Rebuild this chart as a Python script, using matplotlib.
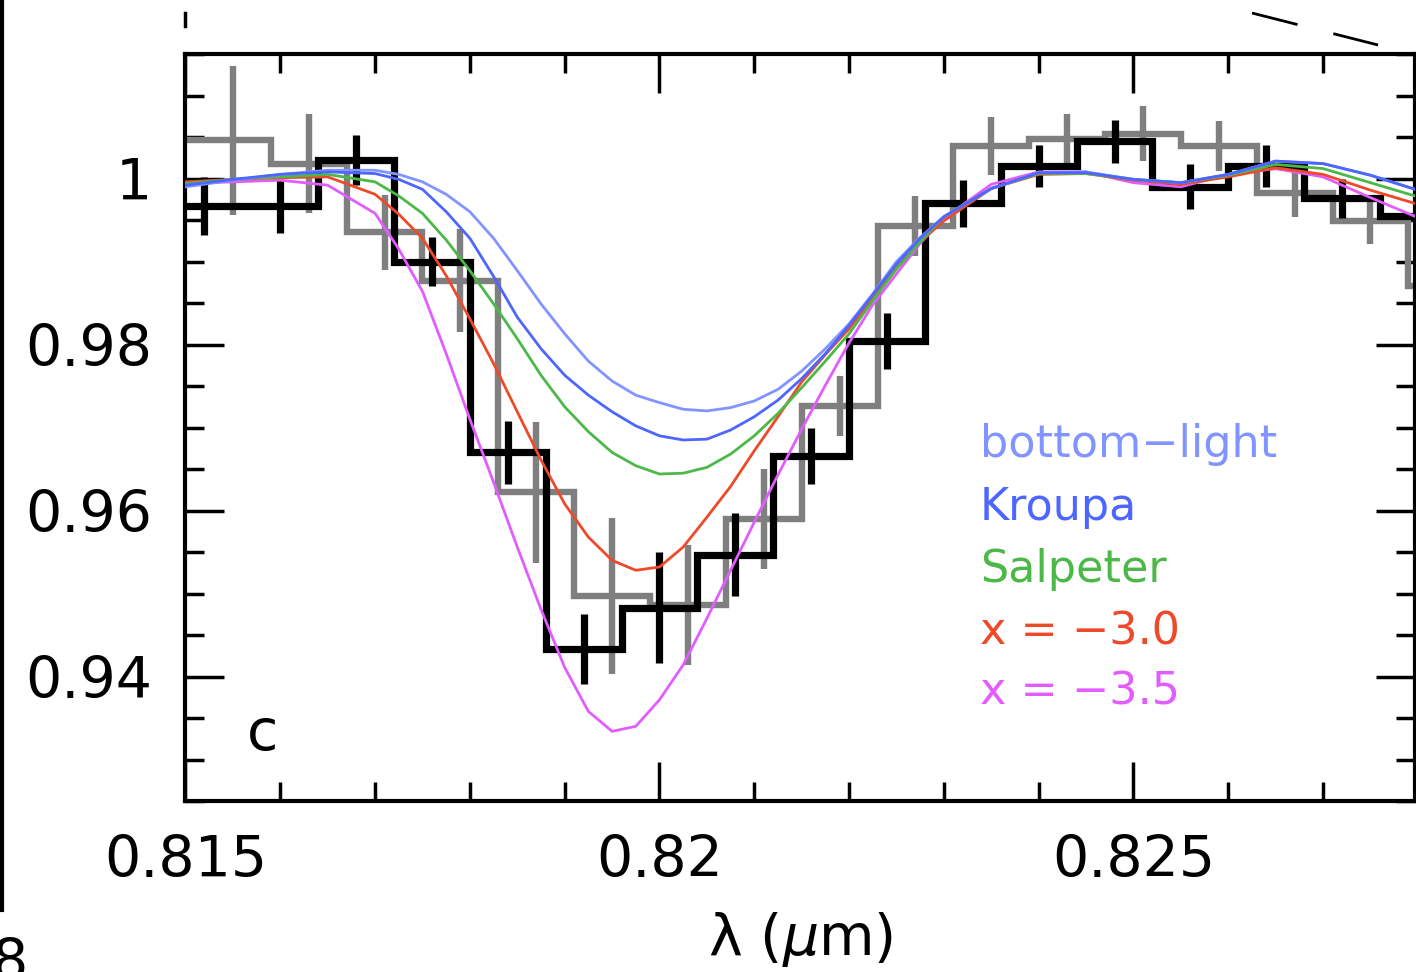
import matplotlib
matplotlib.use("Agg")
import matplotlib.pyplot as plt
import numpy as np
from matplotlib.lines import Line2D
from matplotlib.ticker import FixedLocator, MultipleLocator, FuncFormatter

plt.rcParams['font.family'] = ['DejaVu Sans']
plt.rcParams['mathtext.fontset'] = 'dejavusans'

bin_width = 0.0008

# observed spectrum (black histogram)
obs_lam = [0.8152, 0.8160, 0.8168, 0.8176, 0.8184, 0.8192, 0.8200, 0.8208, 0.8216,
           0.8224, 0.8232, 0.8240, 0.8248, 0.8256, 0.8264, 0.8272, 0.8280]
obs_flux = [0.9967, 0.9967, 1.0022, 0.9900, 0.9670, 0.9433, 0.9483, 0.9547, 0.9666,
            0.9804, 0.9970, 1.0015, 1.0045, 0.9990, 1.0015, 0.9976, 0.9955]
obs_err = [0.0035, 0.0033, 0.0030, 0.0030, 0.0038, 0.0042, 0.0067, 0.0050, 0.0034,
           0.0034, 0.0028, 0.0025, 0.0026, 0.0027, 0.0025, 0.0023, 0.0025]

# second spectrum (grey histogram), shifted sampling
alt_lam = [0.8147, 0.8155, 0.8163, 0.8171, 0.8179, 0.8187, 0.8195, 0.8203, 0.8211,
           0.8219, 0.8227, 0.8235, 0.8243, 0.8251, 0.8259, 0.8267, 0.8275, 0.8283]
alt_flux = [1.0046, 1.0046, 1.0018, 0.9935, 0.9877, 0.9622, 0.9497, 0.9486, 0.9590,
            0.9726, 0.9943, 1.0039, 1.0048, 1.0054, 1.0039, 0.9982, 0.9949, 0.9870]
alt_err = [0.0, 0.0090, 0.0060, 0.0045, 0.0062, 0.0085, 0.0094, 0.0072, 0.0060,
           0.0036, 0.0036, 0.0035, 0.0030, 0.0033, 0.0030, 0.0028, 0.0028, 0.0040]

# model spectra for the different IMFs
model_lam = [0.8150, 0.8155, 0.8160, 0.8165, 0.8170,
             0.81725, 0.8175, 0.81775, 0.8180, 0.81825, 0.8185, 0.81875, 0.8190,
             0.81925, 0.8195, 0.81975, 0.8200, 0.82025, 0.8205, 0.82075, 0.8210,
             0.82125, 0.8215, 0.82175, 0.8220, 0.82225, 0.8225, 0.82275,
             0.8230, 0.8235, 0.8240, 0.8245, 0.8250, 0.8255, 0.8260, 0.8265,
             0.8270, 0.8275, 0.8280]
bottom_light = [0.9990, 0.9998, 1.0005, 1.0010, 1.0010,
                1.0005, 0.9996, 0.9981, 0.9960, 0.9928, 0.9889, 0.9849, 0.9813,
                0.9780, 0.9756, 0.9739, 0.9730, 0.9722, 0.9720, 0.9724, 0.9732,
                0.9746, 0.9768, 0.9795, 0.9825, 0.9861, 0.9900, 0.9929,
                0.9954, 0.9988, 1.0007, 1.0008, 0.9999, 0.9995, 1.0005, 1.0021,
                1.0018, 1.0004, 0.9986]
kroupa = [0.9992, 0.9999, 1.0005, 1.0008, 1.0006,
          0.9999, 0.9987, 0.9960, 0.9928, 0.9882, 0.9833, 0.9795, 0.9763,
          0.9739, 0.9719, 0.9702, 0.9690, 0.9685, 0.9686, 0.9697, 0.9713,
          0.9733, 0.9759, 0.9789, 0.9823, 0.9860, 0.9897, 0.9928,
          0.9954, 0.9988, 1.0007, 1.0007, 0.9999, 0.9995, 1.0005, 1.0021,
          1.0018, 1.0004, 0.9986]
salpeter = [0.9994, 0.9999, 1.0002, 1.0005, 0.9996,
            0.9979, 0.9958, 0.9926, 0.9889, 0.9849, 0.9807, 0.9763, 0.9725,
            0.9695, 0.9670, 0.9654, 0.9644, 0.9645, 0.9652, 0.9668, 0.9690,
            0.9717, 0.9748, 0.9780, 0.9813, 0.9853, 0.9891, 0.9924,
            0.9954, 0.9988, 1.0006, 1.0006, 0.9999, 0.9995, 1.0004, 1.0017,
            1.0012, 0.9995, 0.9978]
x_30 = [0.9996, 0.9999, 1.0001, 1.0002, 0.9981,
        0.9957, 0.9928, 0.9883, 0.9831, 0.9777, 0.9719, 0.9661, 0.9608,
        0.9568, 0.9540, 0.9528, 0.9532, 0.9556, 0.9592, 0.9629, 0.9672,
        0.9713, 0.9755, 0.9788, 0.9819, 0.9856, 0.9893, 0.9924,
        0.9949, 0.9988, 1.0005, 1.0006, 0.9998, 0.9993, 1.0002, 1.0013,
        1.0005, 0.9986, 0.9969]
x_35 = [0.9994, 0.9996, 0.9998, 0.9992, 0.9958,
        0.9915, 0.9864, 0.9789, 0.9710, 0.9634, 0.9556, 0.9481, 0.9411,
        0.9358, 0.9334, 0.9340, 0.9372, 0.9414, 0.9470, 0.9528, 0.9586,
        0.9643, 0.9698, 0.9751, 0.9802, 0.9848, 0.9885, 0.9922,
        0.9952, 0.9993, 1.0008, 1.0008, 0.9995, 0.9990, 1.0005, 1.0012,
        1.0002, 0.9977, 0.9953]

model_names = ['bottom\u2212light', 'Kroupa', 'Salpeter', 'x = \u22123.0', 'x = \u22123.5']
model_colors = ['#8294ff', '#4d66ff', '#4cb848', '#ee4a2a', '#e25cff']
models = [bottom_light, kroupa, salpeter, x_30, x_35]


def bin_edges(centers):
    c = np.asarray(centers)
    return np.append(c - bin_width / 2, c[-1] + bin_width / 2)


fig = plt.figure(figsize=(14.16, 9.72), dpi=100)
ax = fig.add_axes([0.1310, 0.1759, 0.9993 - 0.1310, 0.9444 - 0.1759])

grey = '#7f7f7f'
ax.stairs(alt_flux, bin_edges(alt_lam), baseline=None, color=grey, lw=4.6, zorder=2)
ax.errorbar(alt_lam, alt_flux, yerr=alt_err, fmt='none', ecolor=grey,
            elinewidth=4.6, capsize=0, zorder=2)
ax.stairs(obs_flux, bin_edges(obs_lam), baseline=None, color='k', lw=5.2, zorder=3)
ax.errorbar(obs_lam, obs_flux, yerr=obs_err, fmt='none', ecolor='k',
            elinewidth=5.2, capsize=0, zorder=3)

# draw order: magenta underneath, blue on top
for i in [4, 3, 2, 0, 1]:
    ax.plot(model_lam, models[i], color=model_colors[i], lw=2.0, zorder=4)

legend_y = [0.9680, 0.9604, 0.9529, 0.9454, 0.9381]
for name, col, yy in zip(model_names, model_colors, legend_y):
    ax.text(0.82338, yy, name, color=col, fontsize=32, ha='left', va='center')

ax.text(0.81581, 0.9330, 'c', fontsize=41, ha='center', va='center')

ax.set_xlim(0.815, 0.82797)
ax.set_ylim(0.925, 1.015)
ax.xaxis.set_major_locator(FixedLocator([0.815, 0.82, 0.825]))
ax.xaxis.set_minor_locator(MultipleLocator(0.001))
ax.yaxis.set_major_locator(FixedLocator([0.94, 0.96, 0.98, 1.0]))
ax.yaxis.set_minor_locator(MultipleLocator(0.005))
fmt = FuncFormatter(lambda v, p: '%g' % v)
ax.xaxis.set_major_formatter(fmt)
ax.yaxis.set_major_formatter(fmt)
ax.tick_params(which='both', direction='in', top=True, right=True, width=2.5, color='k')
ax.tick_params(which='major', length=28, pad=24, labelsize=41)
ax.tick_params(which='minor', length=13.5)
for s in ax.spines.values():
    s.set_linewidth(3)

ax.set_xlabel(r'λ ($\mu$m)', fontsize=41)
ax.xaxis.set_label_coords(0.5, -0.186)
ax.xaxis.label.set_va('center')

# pieces of the neighbouring panels
fig.add_artist(Line2D([0.0015, 0.0015], [1.0, 0.0638], transform=fig.transFigure,
                      color='k', lw=3))
fig.add_artist(Line2D([0.131, 0.131], [0.9866, 0.9733], transform=fig.transFigure,
                      color='k', lw=2.5))
fig.add_artist(Line2D([0.8842, 0.9732], [0.9866, 0.9537], transform=fig.transFigure,
                      color='k', lw=2.0, linestyle=(0, (16.9, 13.3))))
fig.text(0.0194, -0.0082, '8', fontsize=41, ha='right', va='baseline')

fig.savefig('out.png', dpi=100)
